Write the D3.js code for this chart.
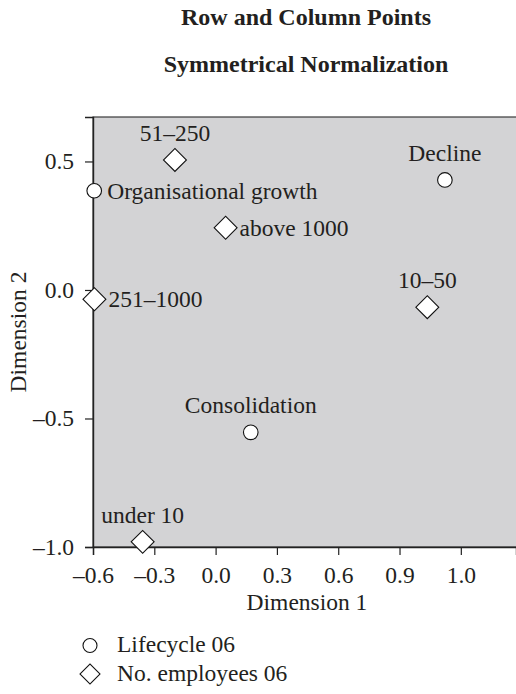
<!DOCTYPE html>
<html>
<head>
<meta charset="utf-8">
<script src="https://cdn.jsdelivr.net/npm/d3@7/dist/d3.min.js"></script>
<style>
  html, body { margin: 0; padding: 0; background: #ffffff; }
  svg { display: block; font-family: "Liberation Serif", "DejaVu Serif", serif; }
</style>
</head>
<body>
<svg id="chart" width="516" height="694"></svg>
<script>
// ---- Data ----
const titleLines = ["Row and Column Points", "Symmetrical Normalization"];
const xAxisTitle = "Dimension 1";
const yAxisTitle = "Dimension 2";

const xTickValues = [-0.6, -0.3, 0.0, 0.3, 0.6, 0.9, 1.2];
const xTickLabels = ["–0.6", "–0.3", "0.0", "0.3", "0.6", "0.9", "1.0"];
const yTickValues = [0.5, 0.0, -0.5, -1.0];
const yTickLabels = ["0.5", "0.0", "–0.5", "–1.0"];

// Lifecycle 06 (row points, circles)
const lifecycleNames = ["Organisational growth", "Decline", "Consolidation"];
const lifecycleDim1 = [-0.594, 1.122, 0.172];
const lifecycleDim2 = [0.386, 0.428, -0.554];
const lifecycleLabelSide = ["right", "top", "top"];

// No. employees 06 (column points, diamonds)
const employeeNames = ["51–250", "above 1000", "251–1000", "10–50", "under 10"];
const employeeDim1 = [-0.199, 0.049, -0.593, 1.036, -0.357];
const employeeDim2 = [0.506, 0.242, -0.036, -0.067, -0.98];
const employeeLabelSide = ["top", "right", "right", "top", "top"];

const legendNames = ["Lifecycle 06", "No. employees 06"];

// ---- Layout ----
const W = 516, H = 694;
const plot = { left: 93, top: 117, right: 516, bottom: 547 };
const textColor = "#231f20";
const fs = 23.5;

const svg = d3.select("#chart");

const x = d3.scaleLinear().domain([-0.6, 1.47]).range([plot.left, plot.right]);
const y = d3.scaleLinear().domain([-1.0, 0.673]).range([plot.bottom, plot.top]);

// Titles
svg.selectAll("text.title").data(titleLines).enter().append("text")
  .attr("class", "title")
  .attr("x", 306)
  .attr("y", (d, i) => 25 + i * 47)
  .attr("text-anchor", "middle")
  .attr("font-weight", "bold")
  .attr("font-size", 24)
  .attr("fill", textColor)
  .text(d => d);

// Plot background
svg.append("rect")
  .attr("x", plot.left).attr("y", plot.top)
  .attr("width", plot.right - plot.left + 6)
  .attr("height", plot.bottom - plot.top)
  .attr("fill", "#d3d3d5")
  .attr("stroke", "#3a3a3a")
  .attr("stroke-width", 1.2);

// Axes
const xAxis = d3.axisBottom(x)
  .tickValues(xTickValues)
  .tickFormat((d, i) => xTickLabels[i])
  .tickSize(8).tickPadding(6);
const yAxis = d3.axisLeft(y)
  .tickValues(yTickValues)
  .tickFormat((d, i) => yTickLabels[i])
  .tickSize(8).tickPadding(11);

const gx = svg.append("g").attr("transform", `translate(0,${plot.bottom})`).call(xAxis);
const gy = svg.append("g").attr("transform", `translate(${plot.left},0)`).call(yAxis);
[gx, gy].forEach(g => {
  g.select(".domain").attr("stroke", "#222").attr("stroke-width", 1.4);
  g.selectAll(".tick line").attr("stroke", "#222").attr("stroke-width", 1.2);
  g.selectAll(".tick text")
    .attr("font-family", "Liberation Serif, DejaVu Serif, serif")
    .attr("font-size", fs)
    .attr("fill", textColor);
});
gx.selectAll(".tick text").attr("dy", "0.95em");
gy.selectAll(".tick text").attr("dy", "0.3em");

// Axis titles
svg.append("text")
  .attr("x", 307).attr("y", 610)
  .attr("text-anchor", "middle")
  .attr("font-size", fs).attr("fill", textColor)
  .text(xAxisTitle);
svg.append("text")
  .attr("transform", `translate(26,${(plot.top + plot.bottom) / 2}) rotate(-90)`)
  .attr("text-anchor", "middle")
  .attr("font-size", fs).attr("fill", textColor)
  .text(yAxisTitle);

// Data tables
const lifecycle = lifecycleNames.map((n, i) => ({ name: n, d1: lifecycleDim1[i], d2: lifecycleDim2[i], side: lifecycleLabelSide[i] }));
const employees = employeeNames.map((n, i) => ({ name: n, d1: employeeDim1[i], d2: employeeDim2[i], side: employeeLabelSide[i] }));

const diamond = d3.symbol().type(d3.symbolSquare).size(262);
const circleR = 7.3;

// Labels
function addLabels(data, rightOffset) {
  svg.append("g").selectAll("text").data(data).enter().append("text")
    .attr("x", d => d.side === "top" ? x(d.d1) : x(d.d1) + rightOffset)
    .attr("y", d => d.side === "top" ? y(d.d2) - 19 : y(d.d2) + 8)
    .attr("text-anchor", d => d.side === "top" ? "middle" : "start")
    .attr("font-size", fs)
    .attr("fill", textColor)
    .text(d => d.name);
}
addLabels(lifecycle, 13);
addLabels(employees, 14);

// Points
svg.append("g").selectAll("path").data(employees).enter().append("path")
  .attr("d", diamond)
  .attr("transform", d => `translate(${x(d.d1)},${y(d.d2)}) rotate(45)`)
  .attr("fill", "#ffffff")
  .attr("stroke", "#111")
  .attr("stroke-width", 1.1);

svg.append("g").selectAll("circle").data(lifecycle).enter().append("circle")
  .attr("cx", d => x(d.d1))
  .attr("cy", d => y(d.d2))
  .attr("r", circleR)
  .attr("fill", "#ffffff")
  .attr("stroke", "#111")
  .attr("stroke-width", 1.1);

// Legend
const legend = svg.append("g");
legend.append("circle")
  .attr("cx", 90).attr("cy", 645.5).attr("r", 7)
  .attr("fill", "#ffffff").attr("stroke", "#111").attr("stroke-width", 1.1);
legend.append("path")
  .attr("d", d3.symbol().type(d3.symbolSquare).size(200))
  .attr("transform", "translate(90,674) rotate(45)")
  .attr("fill", "#ffffff").attr("stroke", "#111").attr("stroke-width", 1.1);
legend.selectAll("text").data(legendNames).enter().append("text")
  .attr("x", 117)
  .attr("y", (d, i) => 652 + i * 28.5)
  .attr("font-size", fs)
  .attr("fill", textColor)
  .text(d => d);
</script>
</body>
</html>
